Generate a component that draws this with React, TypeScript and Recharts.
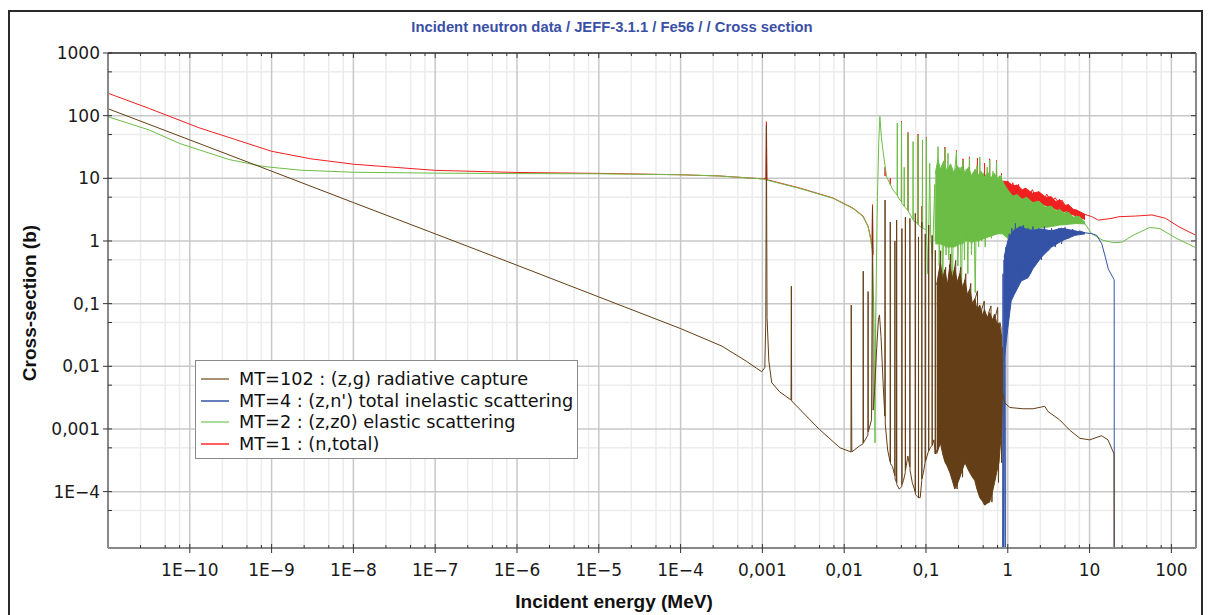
import { ComposedChart, Line, Area, XAxis, YAxis, ReferenceLine, Legend } from 'recharts'

type Pt = [number, number | null]
type Band = [number, number, number]

// energies in MeV, cross sections in barns
const totalXs: Pt[] = [
  [1e-11, 228], [3.2e-11, 130], [1.3e-10, 64], [3e-10, 45], [1e-9, 27], [3e-9, 20.5], [1e-8, 16.8], [1e-7, 13.4],
  [1e-6, 12.4], [1e-5, 12], [1e-4, 11.4], [3e-4, 10.9], [1e-3, 9.8], [1.1e-3, 10], [1.12e-3, 80], [1.14e-3, 9.5],
  [2.86e-3, 7.0], [7.3e-3, 4.85], [0.0128, 3.35], [0.017, 2.5], [0.0196, 1.72], [0.0212, 1.06], [0.0218, 0.8],
  [0.0222, 3.8], [0.0226, 0.6], [0.0227, null],
  [0.0314, 11], [0.0316, 15], [0.0318, 10.8], [0.0319, null],
  [0.0364, 8], [0.0366, 10], [0.0368, 7.9], [0.0369, null],
  [0.0501, 4.3], [0.0502, 82], [0.0503, 4.2], [0.0504, null],
  [0.0603, 3.1], [0.0604, 54], [0.0605, 3.0], [0.0606, null],
  [0.0799, 1.9], [0.08, 51], [0.0801, 1.8], [0.0802, null],
  [0.0889, 1.6], [0.089, 3.6], [0.0891, 1.6], [0.0892, null],
  [0.1013, 1.5], [0.1014, 45], [0.1015, 1.4], [0.1016, null],
  [0.1699, 3], [0.17, 31.5], [0.1701, 3], [0.1702, null],
  [0.2359, 3], [0.236, 28], [0.2361, 3], [0.2362, null],
  [0.2839, 3], [0.284, 20.5], [0.2841, 3], [0.2842, null],
  [0.3399, 3], [0.34, 22], [0.3401, 3], [0.3402, null],
  [0.4259, 3], [0.426, 21], [0.4261, 3], [0.4262, null],
  [0.5199, 3], [0.52, 17.5], [0.5201, 3], [0.5202, null],
  [0.5999, 3], [0.6, 20.5], [0.6001, 3], [0.6002, null],
  [0.7279, 3], [0.728, 19.3], [0.7281, 3], [0.7282, null],
  [0.8379, 3], [0.838, 12], [0.8381, 3], [0.8382, null],
  [0.86, 6], [0.9, 9], [0.95, 6], [1.0, 8.9], [1.08, 6], [1.15, 8.5], [1.25, 6], [1.35, 8.0], [1.45, 5.5], [1.65, 7.0],
  [1.8, 5], [2.0, 6.6], [2.2, 4.8], [2.4, 6.1], [2.7, 4.5], [3.0, 5.6], [3.4, 4.2], [3.8, 4.9], [4.3, 3.8], [4.6, 4.5],
  [5.2, 3.4], [5.5, 3.8], [6.2, 3.0], [7.0, 3.1], [7.8, 2.7], [8.8, 2.65], [10.6, 2.45], [12.8, 2.15], [18.8, 2.3],
  [22.9, 2.44], [36.5, 2.5], [58, 2.6], [85, 2.3], [124, 1.68], [200, 1.23],
]
const totalBand: Band[] = [
  [0.86, 6, 9], [1.0, 5.5, 8.9], [1.15, 5.2, 7.6], [1.3, 5, 7.8], [1.5, 4.8, 6.6], [1.65, 4.5, 6.95], [2.0, 4.2, 5.8],
  [2.4, 4, 6.1], [2.9, 3.7, 5.0], [3.4, 3.4, 5.1], [3.9, 3.2, 4.2], [4.3, 3.1, 4.6], [5.0, 2.9, 3.7], [5.5, 2.8, 3.8],
  [6.3, 2.6, 3.2], [7.0, 2.5, 3.1], [8.8, 2.2, 2.65],
]

const elasticXs: Pt[] = [
  [1e-11, 96], [3.2e-11, 59], [7.5e-11, 36], [1.3e-10, 28.5], [3e-10, 20], [7.8e-10, 15.5], [2.2e-9, 13.5],
  [1e-8, 12.5], [1e-7, 12.1], [1e-6, 11.9], [1e-5, 11.8], [1e-4, 11.4], [3e-4, 10.9], [1e-3, 9.8], [1.12e-3, 9.4],
  [2.86e-3, 6.9], [7.3e-3, 4.8], [0.0128, 3.3], [0.017, 2.45], [0.0196, 1.69], [0.0212, 1.04], [0.0221, 0.64],
  [0.0232, 0.05], [0.0238, 6e-4], [0.0242, 0.05], [0.0255, 5], [0.0265, 40], [0.0273, 97], [0.0285, 45], [0.0297, 28.5],
  [0.033, 10.6], [0.0395, 6.5], [0.0443, 5.4], [0.0446, 76], [0.0449, 5.2], [0.048, 4.5], [0.0499, 4.3], [0.0502, 78],
  [0.0505, 4.0], [0.054, 3.6], [0.0542, 15], [0.0545, 3.5], [0.06, 3.1], [0.0604, 52], [0.0608, 3.0], [0.0692, 2.2],
  [0.0696, 38.6], [0.07, 2.1], [0.0795, 1.9], [0.08, 49], [0.0805, 1.8], [0.09, 1.6], [0.0906, 41], [0.0912, 1.6],
  [0.1008, 1.5], [0.1014, 43.6], [0.102, 1.2], [0.105, 0.3], [0.108, 1.4], [0.111, 17.4], [0.114, 1.3], [0.12, 0.5],
  [0.128, 8], [0.13, 1.0], [0.1406, 32], [0.145, 0.4], [0.155, 12], [0.16, 0.15], [0.17, 30], [0.176, 0.6],
  [0.186, 25], [0.19, 0.5], [0.2, 14], [0.21, 0.12], [0.22, 10], [0.236, 26.7], [0.245, 0.4], [0.26, 15], [0.27, 0.06],
  [0.284, 19.6], [0.295, 0.5], [0.31, 14], [0.325, 0.3], [0.34, 21], [0.36, 0.6], [0.38, 12], [0.4, 0.15], [0.42, 16],
  [0.44, 0.8], [0.455, 22], [0.48, 1.0], [0.5, 12], [0.53, 0.8], [0.56, 15], [0.58, 1.2], [0.6, 19.6], [0.63, 1.1],
  [0.66, 13], [0.69, 1.3], [0.728, 18.5], [0.76, 1.4], [0.8, 10], [0.838, 11.3], [0.85, 1.5], [0.87, 9], [0.9, 2.5],
  [0.95, 6], [1.0, 1.5], [1.1, 5.5], [1.2, 1.6], [1.35, 5], [1.5, 1.7], [1.8, 4.6], [2.1, 1.8], [2.5, 4], [2.9, 1.9],
  [3.5, 3.5], [4.2, 2.0], [5.2, 3.0], [6.3, 2.1], [7.5, 2.5], [8.8, 1.87], [10.6, 1.31], [14.5, 1.03], [19.6, 0.94],
  [25, 0.96], [34, 1.23], [54, 1.64], [72, 1.58], [117, 1.09], [200, 0.78],
]
const elasticBand: Band[] = [
  [0.13, 0.9, 12], [0.14, 0.9, 20], [0.15, 0.9, 14], [0.165, 0.85, 19], [0.18, 0.8, 13], [0.2, 0.8, 17],
  [0.22, 0.8, 12], [0.24, 0.85, 16], [0.26, 0.9, 13], [0.28, 0.9, 16], [0.3, 1.0, 12], [0.33, 1.0, 15],
  [0.36, 0.95, 11], [0.4, 1.0, 14], [0.43, 1.0, 11], [0.47, 1.05, 13], [0.52, 1.1, 10.5], [0.57, 1.15, 12.5],
  [0.62, 1.2, 10], [0.68, 1.25, 12], [0.75, 1.3, 10], [0.8, 1.3, 11], [0.86, 1.3, 9],
  [1.0, 1.1, 6.5], [1.15, 1.2, 5.2], [1.3, 1.3, 5.5], [1.5, 1.4, 4.6], [1.7, 1.45, 5.0], [2.0, 1.55, 4.1],
  [2.4, 1.6, 4.3], [2.9, 1.65, 3.5], [3.4, 1.7, 3.6], [3.9, 1.75, 3.0], [4.3, 1.8, 3.2], [5.0, 1.82, 2.7],
  [5.5, 1.85, 2.9], [6.3, 1.88, 2.4], [7.0, 1.9, 2.5], [8.8, 1.87, 2.0],
]

const inelasticXs: Pt[] = [
  [0.86, 1e-7], [0.875, 0.3], [0.886, 1e-7], [0.9, 0.5], [0.935, 1e-7], [0.95, 0.8], [1.0, 0.15], [1.04, 1.3],
  [1.08, 0.2], [1.12, 1.6], [1.18, 0.18], [1.24, 1.9], [1.3, 0.3], [1.38, 1.7], [1.46, 0.25], [1.55, 1.8], [1.65, 0.35],
  [1.77, 1.6], [1.9, 0.3], [2.03, 1.7], [2.2, 0.45], [2.4, 1.6], [2.57, 0.5], [2.8, 1.7], [3.1, 0.7], [3.43, 1.6],
  [3.8, 0.8], [4.2, 1.6], [4.54, 0.9], [5, 1.65], [5.6, 1.1], [6.2, 1.55], [6.63, 1.25], [7.5, 1.45], [8.8, 1.35],
  [10.6, 1.31], [12.2, 1.23], [14.1, 0.9], [15.6, 0.55], [16.9, 0.36], [19.3, 0.26], [20, 0.24], [20.05, 1e-7],
]
const inelasticBand: Band[] = [
  [0.9, 0.012, 0.55], [1.0, 0.04, 1.0], [1.1, 0.11, 1.3], [1.2, 0.14, 1.5], [1.46, 0.23, 1.7], [1.77, 0.26, 1.5],
  [2.03, 0.36, 1.5], [2.57, 0.55, 1.55], [3.43, 0.8, 1.45], [4.54, 1.0, 1.6], [6.63, 1.23, 1.45], [8.8, 1.3, 1.35],
]

const captureXs: Pt[] = [
  [1e-11, 129], [1e-10, 41], [1e-9, 13], [1e-8, 4.1], [1e-7, 1.3], [1e-6, 0.41], [1e-5, 0.128], [1e-4, 0.04],
  [3.2e-4, 0.021], [6.4e-4, 0.012], [9.8e-4, 0.0082], [1.07e-3, 0.0095], [1.1e-3, 0.05], [1.12e-3, 70], [1.14e-3, 0.06],
  [1.2e-3, 0.012], [1.3e-3, 0.0055], [1.63e-3, 0.0039], [2.24e-3, 0.0029], [2.26e-3, 0.19], [2.28e-3, 0.0028],
  [5.0e-3, 0.00098], [8.9e-3, 0.0005], [0.0121, 0.00043], [0.0122, 0.095], [0.0124, 0.00043], [0.0155, 0.00054],
  [0.017, 0.00058], [0.0171, 0.33], [0.0172, 0.0006], [0.0195, 0.0008], [0.0196, 0.156], [0.0197, 0.0009],
  [0.0216, 0.0014], [0.0222, 3.5], [0.0226, 0.002], [0.0235, 0.004], [0.025, 0.02], [0.0262, 0.055], [0.027, 0.066],
  [0.0282, 0.03], [0.03, 0.005],
  [0.0314, 0.0016], [0.0316, 4.5], [0.0318, 0.0012], [0.034, 4.6e-4], [0.0364, 3e-4], [0.0366, 2.0], [0.0368, 2.8e-4],
  [0.039, 2.5e-4], [0.0415, 1.8e-4], [0.0417, 1.0], [0.0419, 1.6e-4], [0.0436, 1.4e-4], [0.0438, 2.16], [0.044, 1.3e-4],
  [0.047, 1.1e-4], [0.0506, 1.2e-4], [0.0508, 1.58], [0.051, 1.3e-4], [0.053, 1.5e-4], [0.0558, 2e-4], [0.056, 2.4],
  [0.0562, 2.2e-4], [0.06, 3.7e-4], [0.0634, 2.5e-4], [0.0636, 2.3], [0.0638, 2.2e-4], [0.068, 1.4e-4], [0.0738, 1e-4],
  [0.074, 2.76], [0.0742, 9e-5], [0.078, 8.4e-5], [0.0808, 8e-5], [0.081, 1.16], [0.0812, 8e-5], [0.085, 8e-5],
  [0.0888, 1.5e-4], [0.089, 2.0], [0.0892, 1.6e-4], [0.093, 2e-4], [0.0978, 3e-4], [0.098, 1.3], [0.0982, 3e-4],
  [0.103, 3.7e-4], [0.1078, 4.5e-4], [0.108, 1.8], [0.1082, 4.5e-4], [0.113, 5e-4], [0.1188, 5.5e-4], [0.119, 1.23],
  [0.1192, 5.5e-4], [0.125, 6.7e-4], [0.1298, 4e-4], [0.13, 0.71], [0.1302, 4e-4],
  [0.14, 5e-4], [0.151, 0.7], [0.155, 6.7e-4], [0.165, 0.1], [0.174, 0.38], [0.18, 3e-4], [0.19, 0.2], [0.2, 0.62],
  [0.21, 2e-4], [0.22, 0.3], [0.231, 0.49], [0.24, 1.1e-4], [0.255, 0.25], [0.266, 0.38], [0.28, 1.7e-4], [0.295, 0.2],
  [0.307, 0.3], [0.32, 2.9e-4], [0.34, 0.15], [0.353, 0.21], [0.37, 2e-4], [0.4, 0.12], [0.426, 0.16], [0.44, 1.5e-4],
  [0.48, 0.08], [0.516, 0.11], [0.53, 6.1e-5], [0.58, 0.07], [0.623, 0.092], [0.64, 6.8e-5], [0.7, 0.06],
  [0.753, 0.087], [0.77, 1.4e-4], [0.8, 0.05], [0.828, 0.041], [0.84, 2.9e-4], [0.855, 0.02], [0.86, 0.0039],
  [0.92, 0.0026], [1.06, 0.0022], [1.54, 0.0021], [2.04, 0.0021], [2.83, 0.0023], [3.1, 0.0019], [4.3, 0.0014],
  [5.7, 9.6e-4], [7.6, 7.1e-4], [10, 6.7e-4], [14, 7.8e-4], [16.8, 6.7e-4], [19, 4.6e-4], [19.9, 4e-4], [20, 1e-7],
]
const captureBand: Band[] = [
  [0.135, 4e-4, 0.2], [0.15, 6e-4, 0.45], [0.16, 4e-4, 0.25], [0.17, 3e-4, 0.35], [0.183, 2.5e-4, 0.2],
  [0.196, 2e-4, 0.42], [0.21, 1.5e-4, 0.25], [0.225, 1.1e-4, 0.38], [0.24, 1.3e-4, 0.22], [0.26, 1.7e-4, 0.3],
  [0.28, 2.3e-4, 0.18], [0.3, 2.9e-4, 0.24], [0.32, 2.4e-4, 0.14], [0.343, 2e-4, 0.17], [0.37, 1.7e-4, 0.1],
  [0.395, 1.5e-4, 0.12], [0.42, 1.1e-4, 0.08], [0.455, 8e-5, 0.095], [0.49, 7e-5, 0.065], [0.52, 6.1e-5, 0.08],
  [0.56, 6.5e-5, 0.06], [0.6, 6.8e-5, 0.072], [0.65, 1e-4, 0.055], [0.69, 1.4e-4, 0.068], [0.73, 2e-4, 0.05],
  [0.78, 2.9e-4, 0.048], [0.84, 1e-3, 0.03], [0.86, 0.004, 0.006],
]

const X_MAJOR = [1e-10, 1e-9, 1e-8, 1e-7, 1e-6, 1e-5, 1e-4, 1e-3, 0.01, 0.1, 1, 10, 100]
const X_LABELS = ['1E\u221210', '1E\u22129', '1E\u22128', '1E\u22127', '1E\u22126', '1E\u22125', '1E\u22124', '0,001', '0,01', '0,1', '1', '10', '100']
const X_DECADES = [1e-11, 1e-10, 1e-9, 1e-8, 1e-7, 1e-6, 1e-5, 1e-4, 1e-3, 0.01, 0.1, 1, 10]
const X_MINOR = X_DECADES.flatMap((d) => [2.5, 5, 7.5].map((s) => s * d))
const Y_MAJOR = [1e-4, 1e-3, 0.01, 0.1, 1, 10, 100, 1000]
const Y_LABELS = ['1E\u22124', '0,001', '0,01', '0,1', '1', '10', '100', '1000']
const Y_MINOR = [5e-5, 5e-4, 0.005, 0.05, 0.5, 5, 50, 500]

const RED = '#f02020'
const GREEN = '#6cbd45'
const BLUE = '#3553a6'
const BROWN = '#643e16'

const LEGEND_ROWS = [
  { label: 'MT=102 : (z,g) radiative capture', color: '#8c6b4b' },
  { label: "MT=4 : (z,n') total inelastic scattering", color: '#3553a6' },
  { label: 'MT=2 : (z,z0) elastic scattering', color: '#8fd07a' },
  { label: 'MT=1 : (n,total)', color: '#ff2a2a' },
]

const PLOT_W = 1088
const PLOT_H = 495
const TICK_FONT = 'DejaVu Sans'

const pts = (arr: Pt[]) => arr.map(([e, v]) => ({ e, v }))
const band = (arr: Band[]) => arr.map(([e, lo, hi]) => ({ e, v: [lo, hi] }))

const xLabel = new Map(X_MAJOR.map((v, i) => [v, X_LABELS[i]]))
const yLabel = new Map(Y_MAJOR.map((v, i) => [v, Y_LABELS[i]]))

function XTick(props: any) {
  const { x, y, payload } = props
  const label = xLabel.get(payload.value)
  const major = label !== undefined
  const top = y - PLOT_H
  return (
    <g>
      <line x1={x} x2={x} y1={major ? y + 5 : y} y2={y - (major ? 4 : 3)} stroke="#333" />
      <line x1={x} x2={x} y1={top} y2={top + (major ? 5 : 3)} stroke="#333" />
      {major && (
        <text x={x} y={y + 28} textAnchor="middle" fontSize={17} fill="#1a1a1a" fontFamily={TICK_FONT}>
          {label}
        </text>
      )}
    </g>
  )
}

function YTick(props: any) {
  const { x, y, payload } = props
  const label = yLabel.get(payload.value)
  const major = label !== undefined
  const right = x + PLOT_W
  return (
    <g>
      <line x1={major ? x - 5 : x} x2={x + 4} y1={y} y2={y} stroke="#333" />
      <line x1={right} x2={right - (major ? 5 : 3)} y1={y} y2={y} stroke="#333" />
      {major && (
        <text x={x - 8} y={y} dy="0.36em" textAnchor="end" fontSize={17} fill="#1a1a1a" fontFamily={TICK_FONT}>
          {label}
        </text>
      )}
    </g>
  )
}

function LegendBox() {
  return (
    <div
      style={{
        width: 383,
        height: 99,
        boxSizing: 'border-box',
        border: '1px solid #8a8a8a',
        background: '#fff',
        padding: '7px 0 0 5px',
        fontFamily: TICK_FONT,
        fontSize: 17.7,
        color: '#111',
      }}
    >
      {LEGEND_ROWS.map((r) => (
        <div key={r.label} style={{ display: 'flex', alignItems: 'center', height: 21.7, whiteSpace: 'nowrap' }}>
          <svg width={28} height={4} style={{ marginRight: 10, flex: 'none' }}>
            <line x1={0} x2={28} y1={2} y2={2} stroke={r.color} strokeWidth={1.5} />
          </svg>
          {r.label}
        </div>
      ))}
    </div>
  )
}

export default function App() {
  return (
    <div style={{ position: 'relative', width: 1213, height: 615, overflow: 'hidden', background: '#fff' }}>
      <style>{'body{margin:0;overflow:hidden}'}</style>
      <div
        style={{
          position: 'absolute',
          left: 8,
          top: 10,
          width: 1195,
          height: 640,
          border: '2px solid #2a2a2a',
          boxSizing: 'border-box',
        }}
      />
      <ComposedChart width={1213} height={615} margin={{ top: 53, right: 17, bottom: 37, left: 28 }}>
        {X_MINOR.map((v) => (
          <ReferenceLine key={`xm${v}`} x={v} stroke="#ececec" strokeWidth={1.5} zIndex={-100} />
        ))}
        {Y_MINOR.map((v) => (
          <ReferenceLine key={`ym${v}`} y={v} stroke="#ececec" strokeWidth={1.5} zIndex={-100} />
        ))}
        {X_MAJOR.map((v) => (
          <ReferenceLine key={`xM${v}`} x={v} stroke="#c8c8c8" strokeWidth={1.5} zIndex={-99} />
        ))}
        {Y_MAJOR.map((v) => (
          <ReferenceLine key={`yM${v}`} y={v} stroke="#c8c8c8" strokeWidth={1.5} zIndex={-99} />
        ))}
        <XAxis
          type="number"
          dataKey="e"
          scale="log"
          domain={[1e-11, 200]}
          allowDataOverflow
          ticks={[...X_MINOR, ...X_MAJOR]}
          interval={0}
          tick={(p: any) => <XTick {...p} />}
          tickLine={false}
          tickSize={0}
          tickMargin={0}
          axisLine={{ stroke: '#888', strokeWidth: 2 }}
          height={30}
        />
        <YAxis
          type="number"
          scale="log"
          domain={[1.26e-5, 1000]}
          allowDataOverflow
          ticks={[...Y_MINOR, ...Y_MAJOR]}
          interval={0}
          tick={(p: any) => <YTick {...p} />}
          tickLine={false}
          tickSize={0}
          tickMargin={0}
          axisLine={{ stroke: '#888', strokeWidth: 2 }}
          width={80}
        />
        <Area data={band(totalBand)} dataKey="v" type="linear" stroke={RED} strokeWidth={1} fill={RED} fillOpacity={1}
          dot={false} activeDot={false} legendType="none" isAnimationActive={false} zIndex={101} />
        <Line data={pts(totalXs)} dataKey="v" name="MT=1 : (n,total)" type="linear" stroke={RED} strokeWidth={1}
          dot={false} activeDot={false} isAnimationActive={false} zIndex={102} />
        <Area data={band(elasticBand)} dataKey="v" type="linear" stroke={GREEN} strokeWidth={1} fill={GREEN} fillOpacity={1}
          dot={false} activeDot={false} legendType="none" isAnimationActive={false} zIndex={103} />
        <Line data={pts(elasticXs)} dataKey="v" name="MT=2 : (z,z0) elastic scattering" type="linear" stroke={GREEN}
          strokeWidth={1} dot={false} activeDot={false} isAnimationActive={false} zIndex={104} />
        <Area data={band(inelasticBand)} dataKey="v" type="linear" stroke={BLUE} strokeWidth={1} fill={BLUE} fillOpacity={1}
          dot={false} activeDot={false} legendType="none" isAnimationActive={false} zIndex={105} />
        <Line data={pts(inelasticXs)} dataKey="v" name="MT=4 : (z,n') total inelastic scattering" type="linear"
          stroke={BLUE} strokeWidth={1} dot={false} activeDot={false} isAnimationActive={false} zIndex={106} />
        <Area data={band(captureBand)} dataKey="v" type="linear" stroke={BROWN} strokeWidth={1} fill={BROWN} fillOpacity={1}
          dot={false} activeDot={false} legendType="none" isAnimationActive={false} zIndex={107} />
        <Line data={pts(captureXs)} dataKey="v" name="MT=102 : (z,g) radiative capture" type="linear" stroke={BROWN}
          strokeWidth={1} dot={false} activeDot={false} isAnimationActive={false} zIndex={108} />
        <ReferenceLine y={1000} stroke="#333" strokeWidth={1.5} zIndex={600} />
        <ReferenceLine x={200} stroke="#888" strokeWidth={2} zIndex={600} />
        <Legend
          content={() => <LegendBox />}
          layout="vertical"
          align="center"
          verticalAlign="middle"
          wrapperStyle={{ left: 195, top: 360, width: 383, height: 99 }}
        />
      </ComposedChart>
      <svg width={1213} height={615} style={{ position: 'absolute', left: 0, top: 0, pointerEvents: 'none' }}>
        <text x={612} y={32} textAnchor="middle" fontFamily="Liberation Sans" fontWeight="bold" fontSize={14.8} fill="#3a4fa6">
          Incident neutron data / JEFF-3.1.1 / Fe56 / / Cross section
        </text>
        <text x={614} y={608} textAnchor="middle" fontFamily="Liberation Sans" fontWeight="bold" fontSize={19} fill="#111">
          Incident energy (MeV)
        </text>
        <text x={36} y={303} transform="rotate(-90 36 303)" textAnchor="middle" fontFamily="Liberation Sans"
          fontWeight="bold" fontSize={19} fill="#111">
          Cross-section (b)
        </text>
      </svg>
    </div>
  )
}
